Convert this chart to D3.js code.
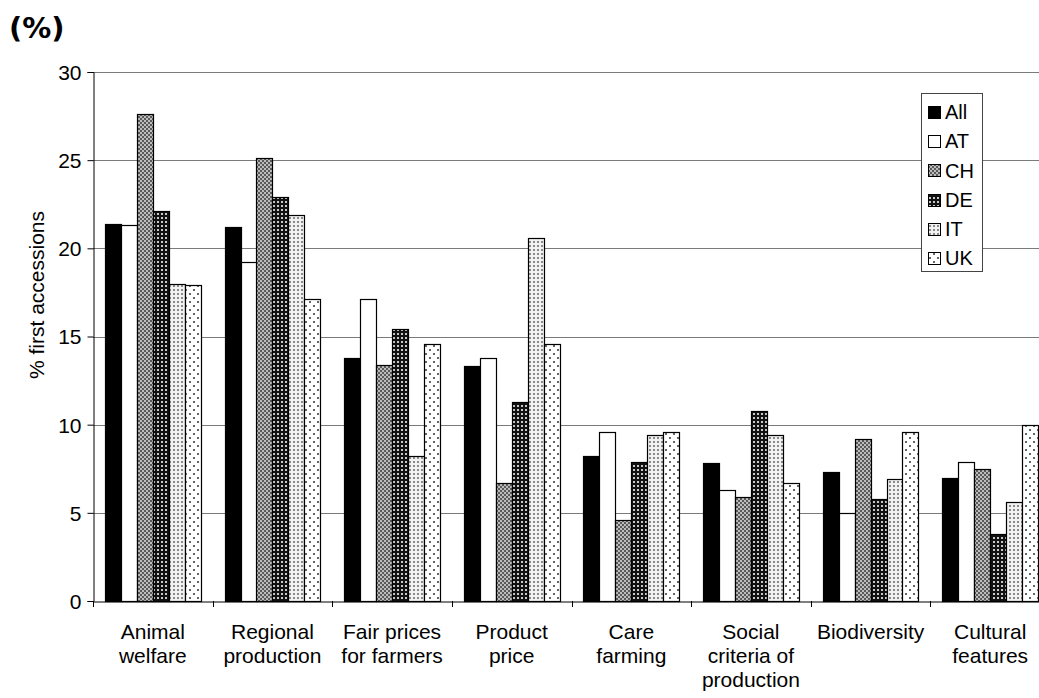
<!doctype html>
<html>
<head>
<meta charset="utf-8">
<script src="https://d3js.org/d3.v7.min.js"></script>
<style>
  body { margin: 0; background: #fff; overflow: hidden; }
  svg { display: block; }
  text { font-family: "Liberation Sans", Arial, sans-serif; fill: #000; }
</style>
</head>
<body>
<svg id="chart" width="1039" height="698"></svg>
<script>
// categories and series
var categories = ["Animal welfare", "Regional production", "Fair prices for farmers", "Product price",
                  "Care farming", "Social criteria of production", "Biodiversity", "Cultural features"];
var catLines = [["Animal", "welfare"], ["Regional", "production"], ["Fair prices", "for farmers"], ["Product", "price"],
                ["Care", "farming"], ["Social", "criteria of", "production"], ["Biodiversity"], ["Cultural", "features"]];
var seriesNames = ["All", "AT", "CH", "DE", "IT", "UK"];
var valAll = [21.4, 21.2, 13.8, 13.3, 8.2, 7.8, 7.3, 7.0];
var valAT  = [21.3, 19.2, 17.1, 13.8, 9.6, 6.3, 5.0, 7.9];
var valCH  = [27.6, 25.1, 13.4, 6.7, 4.6, 5.9, 9.2, 7.5];
var valDE  = [22.1, 22.9, 15.4, 11.3, 7.9, 10.8, 5.8, 3.8];
var valIT  = [18.0, 21.9, 8.2, 20.6, 9.4, 9.4, 6.9, 5.6];
var valUK  = [17.9, 17.1, 14.6, 14.6, 9.6, 6.7, 9.6, 10.0];
var yTicks = [0, 5, 10, 15, 20, 25, 30];

var seriesVals = [valAll, valAT, valCH, valDE, valIT, valUK];
var fills = ["#000", "#fff", "url(#pCH)", "url(#pDE)", "url(#pIT)", "url(#pUK)"];

var svg = d3.select("#chart");
var defs = svg.append("defs");

// hatch patterns like the old office chart fills
function pattern(id, size, bg, dots) {
  var p = defs.append("pattern").attr("id", id)
    .attr("patternUnits", "userSpaceOnUse")
    .attr("width", size).attr("height", size);
  p.append("rect").attr("width", size).attr("height", size).attr("fill", bg);
  dots.forEach(function(d) {
    p.append("rect").attr("x", d[0]).attr("y", d[1]).attr("width", d[2]).attr("height", d[2]).attr("fill", d[3]);
  });
}
pattern("pCH", 4, "#5a5a5a", [[0, 0, 2, "#bcbcbc"], [2, 2, 2, "#bcbcbc"]]);
pattern("pDE", 4, "#111", [[1, 1, 2, "#c8c8c8"]]);
pattern("pIT", 4, "#f2f2f2", [[1, 1, 2, "#8a8a8a"]]);
pattern("pUK", 8, "#fff", [[1, 1, 2, "#666"], [5, 5, 2, "#666"]]);

var x0 = d3.scaleBand().domain(categories).range([93, 1050]).padding(0);
var x1 = d3.scaleBand().domain(seriesNames).range([0, x0.bandwidth()])
  .paddingInner(0).paddingOuter(0.75);
var y = d3.scaleLinear().domain([0, 30]).range([601, 72]);

// grid lines
svg.append("g").selectAll("line").data(yTicks.filter(function(d) { return d > 0; }))
  .enter().append("line")
  .attr("x1", 93).attr("x2", 1050)
  .attr("y1", function(d) { return Math.round(y(d)) + 0.5; })
  .attr("y2", function(d) { return Math.round(y(d)) + 0.5; })
  .attr("stroke", "#7a7a7a").attr("stroke-width", 1);

// bars
seriesNames.forEach(function(s, si) {
  svg.append("g").selectAll("rect").data(seriesVals[si])
    .enter().append("rect")
    .attr("x", function(d, i) { return Math.round(x0(categories[i]) + x1(s)) + 0.5; })
    .attr("y", function(d) { return Math.round(y(d)) + 0.5; })
    .attr("width", Math.round(x1.bandwidth()))
    .attr("height", function(d) { return Math.round(y(0)) - Math.round(y(d)); })
    .attr("fill", fills[si])
    .attr("stroke", "#000").attr("stroke-width", 1.2);
});

// y axis
var yAxis = d3.axisLeft(y).tickValues(yTicks).tickSize(6).tickPadding(6);
var yg = svg.append("g").attr("transform", "translate(93.5,0)").call(yAxis);
yg.select(".domain").attr("stroke", "#000");
yg.selectAll(".tick line").attr("stroke", "#000");
yg.selectAll(".tick text").style("font-family", "Liberation Sans, Arial, sans-serif")
  .style("font-size", "21px").attr("fill", "#000").attr("dy", "0.35em");

// x axis
var xAxis = d3.axisBottom(x0).tickSize(0).tickFormat("");
var xg = svg.append("g").attr("transform", "translate(0,601.5)").call(xAxis);
xg.select(".domain").attr("stroke", "#000");
svg.append("g").selectAll("line").data(categories)
  .enter().append("line")
  .attr("x1", function(d) { return Math.round(x0(d)) + 0.5; })
  .attr("x2", function(d) { return Math.round(x0(d)) + 0.5; })
  .attr("y1", 601).attr("y2", 607)
  .attr("stroke", "#000");

// category labels
var lab = svg.append("g").selectAll("text").data(categories)
  .enter().append("text")
  .attr("text-anchor", "middle")
  .style("font-size", "21px");
lab.each(function(d, i) {
  var t = d3.select(this);
  catLines[i].forEach(function(line, k) {
    t.append("tspan")
      .attr("x", x0(d) + x0.bandwidth() / 2)
      .attr("y", 639 + k * 24)
      .text(line);
  });
});

// y axis title
svg.append("text")
  .attr("transform", "translate(44,295) rotate(-90)")
  .attr("text-anchor", "middle")
  .style("font-size", "21px")
  .text("% first accessions");

// unit label top-left
svg.append("text")
  .attr("x", 9).attr("y", 38)
  .style("font-family", "DejaVu Sans, Verdana, sans-serif")
  .style("font-size", "29px").style("font-weight", "bold")
  .text("(%)");

// legend
var lg = svg.append("g");
lg.append("rect").attr("x", 921.5).attr("y", 93.5).attr("width", 61).attr("height", 178)
  .attr("fill", "#fff").attr("stroke", "#444");
seriesNames.forEach(function(s, i) {
  var cy = 112 + i * 29.2;
  lg.append("rect").attr("x", 928.5).attr("y", Math.round(cy - 6) + 0.5)
    .attr("width", 12).attr("height", 12)
    .attr("fill", fills[i]).attr("stroke", "#000");
  lg.append("text").attr("x", 945).attr("y", cy).attr("dy", "0.36em")
    .style("font-size", "20px").text(s);
});
</script>
</body>
</html>
